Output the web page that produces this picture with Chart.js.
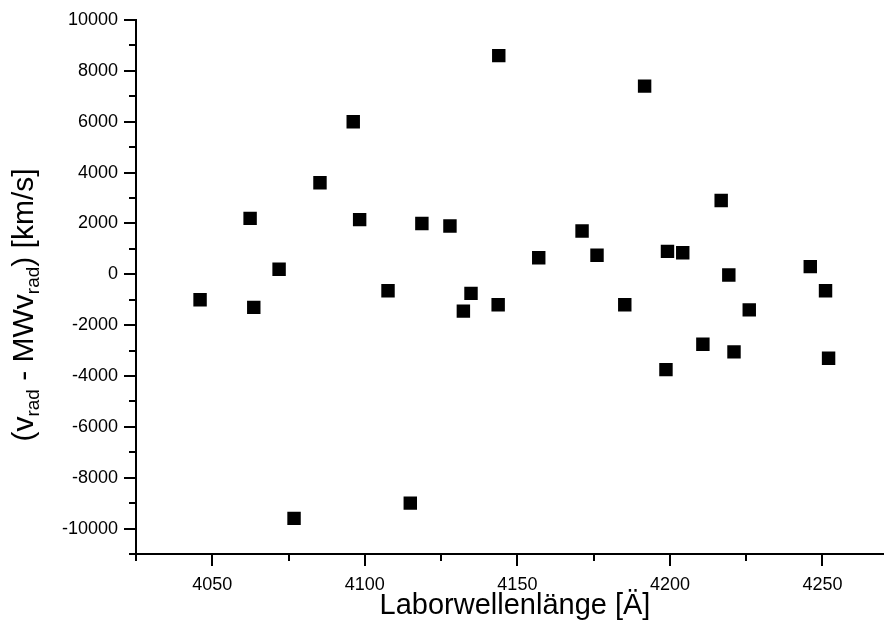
<!DOCTYPE html>
<html>
<head>
<meta charset="utf-8">
<script src="https://cdn.jsdelivr.net/npm/chart.js@4.4.0/dist/chart.umd.min.js"></script>
<style>
  html, body { margin: 0; padding: 0; background: #fff; }
  #wrap { width: 893px; height: 642px; }
</style>
</head>
<body>
<div id="wrap"><canvas id="velChart" width="893" height="642"></canvas></div>
<script>
// Laborwellenlänge [Å] of each line
var wavelengths = [4046, 4062.4, 4063.6, 4071.9, 4076.8, 4085.3, 4096.2, 4098.3,
  4107.6, 4114.9, 4118.7, 4127.9, 4132.3, 4134.8, 4143.7, 4143.9, 4157, 4171.2,
  4176.1, 4185.2, 4191.7, 4198.7, 4199.2, 4204.2, 4210.8, 4216.8, 4219.3, 4221,
  4226, 4246, 4251, 4252];
// v_rad - mean v_rad [km/s]
var dv = [-1000, 2200, -1300, 200, -9600, 3600, 6000, 2150,
  -650, -9000, 2000, 1900, -1450, -750, -1200, 8600, 650, 1700,
  750, -1200, 7400, -3750, 900, 850, -2750, 2900, -30, -3050,
  -1400, 300, -650, -3300];

var xRange = [4025, 4270];
var yRange = [-11000, 10000];
var xStep = 25, xLabelEvery = 50;
var yStep = 1000, yLabelEvery = 2000;

var FONT = "'Liberation Sans', Arial, sans-serif";

var points = wavelengths.map(function (w, i) { return { x: w, y: dv[i] }; });

function stepTicks(lo, hi, step) {
  var out = [];
  for (var v = Math.ceil(lo / step) * step; v <= hi; v += step) out.push({ value: v });
  return out;
}

// major/minor tick marks + axis titles
var axisDecor = {
  id: "axisDecor",
  afterDraw: function (chart) {
    var ctx = chart.ctx, a = chart.chartArea;
    var xs = chart.scales.x, ys = chart.scales.y;
    ctx.save();
    ctx.strokeStyle = "#000";
    ctx.lineWidth = 2;
    xs.ticks.forEach(function (t) {
      var px = Math.round(xs.getPixelForValue(t.value));
      var len = t.value % xLabelEvery === 0 ? 12 : 7;
      ctx.beginPath();
      ctx.moveTo(px, a.bottom);
      ctx.lineTo(px, a.bottom + len);
      ctx.stroke();
    });
    ys.ticks.forEach(function (t) {
      var py = Math.round(ys.getPixelForValue(t.value));
      var len = t.value % yLabelEvery === 0 ? 12 : 7;
      ctx.beginPath();
      ctx.moveTo(a.left - len, py);
      ctx.lineTo(a.left, py);
      ctx.stroke();
    });

    ctx.fillStyle = "#000";
    // x title
    ctx.font = "29px " + FONT;
    ctx.textAlign = "center";
    ctx.textBaseline = "middle";
    ctx.fillText("Laborwellenlänge [Ä]", 515, 606);

    // y title with subscripts
    var parts = [
      ["(v", false], ["rad", true], [" - MWv", false], ["rad", true], [") [km/s]", false]
    ];
    var big = "30px " + FONT, small = "19px " + FONT;
    var total = 0;
    parts.forEach(function (p) {
      ctx.font = p[1] ? small : big;
      total += ctx.measureText(p[0]).width;
    });
    ctx.translate(25, 305);
    ctx.rotate(-Math.PI / 2);
    ctx.textAlign = "left";
    ctx.textBaseline = "middle";
    var cx = -total / 2;
    parts.forEach(function (p) {
      ctx.font = p[1] ? small : big;
      ctx.fillText(p[0], cx, p[1] ? 9 : 0);
      cx += ctx.measureText(p[0]).width;
    });
    ctx.restore();
  }
};

var config = {
  type: "scatter",
  data: {
    datasets: [{
      data: points,
      pointStyle: "rect",
      pointRadius: 9.5,
      pointHoverRadius: 9.5,
      backgroundColor: "#000",
      borderWidth: 0
    }]
  },
  options: {
    responsive: false,
    animation: false,
    layout: { padding: { top: 20, right: 5, left: 0, bottom: 0 } },
    plugins: { legend: { display: false }, tooltip: { enabled: false } },
    scales: {
      x: {
        type: "linear",
        min: xRange[0], max: xRange[1],
        afterFit: function (s) { s.height = 88; },
        afterBuildTicks: function (s) { s.ticks = stepTicks(xRange[0], xRange[1], xStep); },
        grid: { display: false, drawTicks: true, tickLength: 12 },
        border: { display: true, color: "#000", width: 2 },
        ticks: {
          autoSkip: false,
          maxRotation: 0,
          padding: 8,
          color: "#000",
          font: { size: 18, family: FONT },
          callback: function (v) { return v % xLabelEvery === 0 ? String(v) : ""; }
        }
      },
      y: {
        type: "linear",
        min: yRange[0], max: yRange[1],
        afterFit: function (s) { s.width = 136; },
        afterBuildTicks: function (s) { s.ticks = stepTicks(yRange[0], yRange[1], yStep); },
        grid: { display: false, drawTicks: true, tickLength: 12 },
        border: { display: true, color: "#000", width: 2 },
        ticks: {
          autoSkip: false,
          padding: 6,
          color: "#000",
          font: { size: 18, family: FONT },
          callback: function (v) { return v % yLabelEvery === 0 ? String(v) : ""; }
        }
      }
    }
  },
  plugins: [axisDecor]
};

var velChart = new Chart(document.getElementById("velChart"), config);
</script>
</body>
</html>
